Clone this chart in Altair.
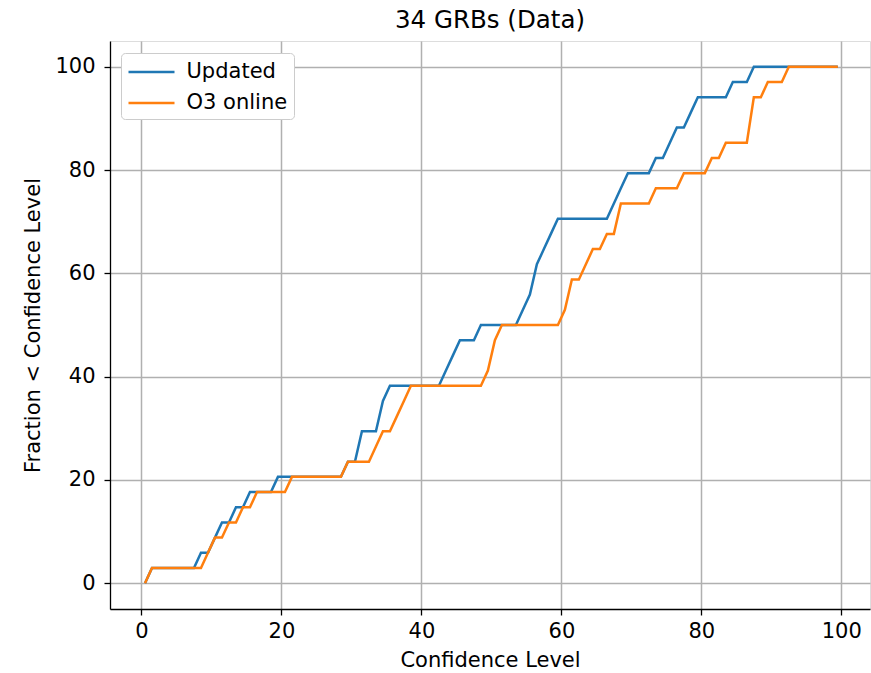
import altair as alt
import pandas as pd

# Cumulative number of GRBs (out of 34) found below each confidence level,
# listed at the corners of each curve.
N_GRB = 34

updated_level = [0.5, 1.5, 7.5, 8.5, 9.5, 10.5, 11.5, 12.5, 13.5, 14.5,
                 15.5, 18.5, 19.5, 28.5, 29.5, 30.5, 31.5, 33.5, 34.5, 35.5,
                 42.5, 43.5, 44.5, 45.5, 47.5, 48.5, 53.5, 54.5, 55.5, 56.5,
                 57.5, 58.5, 59.5, 66.5, 67.5, 68.5, 69.5, 72.5, 73.5, 74.5,
                 75.5, 76.5, 77.5, 78.5, 79.5, 83.5, 84.5, 86.5, 87.5, 99.5]
updated_count = [0, 1, 1, 2, 2, 3, 4, 4, 5, 5,
                 6, 6, 7, 7, 8, 8, 10, 10, 12, 13,
                 13, 14, 15, 16, 16, 17, 17, 18, 19, 21,
                 22, 23, 24, 24, 25, 26, 27, 27, 28, 28,
                 29, 30, 30, 31, 32, 32, 33, 33, 34, 34]

online_level = [0.5, 1.5, 8.5, 9.5, 10.5, 11.5, 12.5, 13.5, 14.5, 15.5,
                16.5, 20.5, 21.5, 28.5, 29.5, 32.5, 33.5, 34.5, 35.5, 36.5,
                37.5, 38.5, 48.5, 49.5, 50.5, 51.5, 59.5, 60.5, 61.5, 62.5,
                63.5, 64.5, 65.5, 66.5, 67.5, 68.5, 72.5, 73.5, 76.5, 77.5,
                80.5, 81.5, 82.5, 83.5, 86.5, 87.5, 88.5, 89.5, 91.5, 92.5,
                99.5]
online_count = [0, 1, 1, 2, 3, 3, 4, 4, 5, 5,
                6, 6, 7, 7, 8, 8, 9, 10, 10, 11,
                12, 13, 13, 14, 16, 17, 17, 18, 20, 20,
                21, 22, 22, 23, 23, 25, 25, 26, 26, 27,
                27, 28, 28, 29, 29, 32, 32, 33, 33, 34,
                34]

series_names = ["Updated", "O3 online"]
series_colors = ["#1f77b4", "#ff7f0e"]
tick_values = [0, 20, 40, 60, 80, 100]

rows = []
for name, levels, counts in [(series_names[0], updated_level, updated_count),
                             (series_names[1], online_level, online_count)]:
    for lv, c in zip(levels, counts):
        rows.append({"series": name, "level": lv, "fraction": 100.0 * c / N_GRB})
df = pd.DataFrame(rows)

FONT = "DejaVu Sans"

axis_common = dict(
    values=tick_values,
    labelFont=FONT, labelFontSize=21, labelColor="black",
    titleFont=FONT, titleFontSize=21, titleColor="black", titleFontWeight="normal",
    tickColor="black", tickSize=6, tickWidth=1.3,
    domainColor="black", domainWidth=1.3,
    grid=True, gridColor="#b0b0b0", gridWidth=1.5,
)

chart = alt.Chart(df).mark_line(strokeWidth=2.5, clip=True).encode(
    x=alt.X("level:Q", title="Confidence Level",
            scale=alt.Scale(domain=[-4.5, 104.1], nice=False, zero=False),
            axis=alt.Axis(labelPadding=5, titlePadding=8, **axis_common)),
    y=alt.Y("fraction:Q", title="Fraction < Confidence Level",
            scale=alt.Scale(domain=[-5, 105], nice=False, zero=False),
            axis=alt.Axis(labelPadding=9, titlePadding=11, **axis_common)),
    color=alt.Color("series:N", sort=series_names,
                    scale=alt.Scale(domain=series_names, range=series_colors),
                    legend=alt.Legend(
                        title=None, orient="none", legendX=11, legendY=12,
                        # a flat line twice as wide as the symbol box
                        symbolType="M-2,0H2", symbolSize=529, symbolStrokeWidth=2.5,
                        symbolOffset=11.5,
                        labelFont=FONT, labelFontSize=21, labelColor="black",
                        labelOffset=22, rowPadding=8, padding=6,
                        strokeColor="#cccccc", fillColor="white", cornerRadius=4,
                    )),
).properties(
    width=760,
    height=568,
    padding={"left": 110, "top": 41, "right": 1, "bottom": 64},
    autosize=alt.AutoSizeParams(type="none"),
    title=alt.TitleParams("34 GRBs (Data)", font=FONT, fontSize=24.5,
                          fontWeight="normal", color="black",
                          anchor="middle", offset=8),
).configure_view(
    stroke="black", strokeWidth=1.3
).configure(background="white")

chart.save("out.html", embed_options={"renderer": "svg", "actions": False})
